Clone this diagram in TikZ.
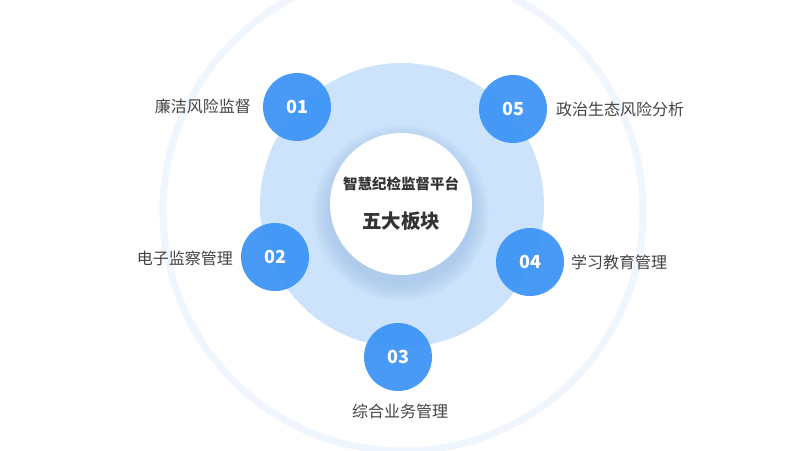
\documentclass[tikz,border=0pt]{standalone}
\usepackage{fontspec}
\setmainfont{Noto Sans CJK SC}
\definecolor{ringc}{HTML}{F0F6FE}
\definecolor{diskc}{HTML}{CCE3FB}
\definecolor{bluec}{HTML}{3690F6}
\definecolor{txtc}{HTML}{444444}
\definecolor{titc}{HTML}{333333}
\definecolor{shadc}{HTML}{8FB4E0}
\tikzset{
  numball/.style={circle, fill=bluec, fill opacity=0.9, text opacity=1, minimum size=68pt, inner sep=0pt, text=white, font=\bfseries\fontsize{18}{18}\selectfont},
  lbl/.style={text=txtc, font=\fontsize{16}{16}\selectfont, inner sep=0pt},
  shadowring/.style={fill=shadc, fill opacity=0.06},
}
\begin{document}
\begin{tikzpicture}[x=1pt,y=-1pt]
\useasboundingbox (0,0) rectangle (800,450);
\fill[white] (0,0) rectangle (800,450);
\begin{scope}
\clip (0,0) rectangle (800,450);
\draw[ringc, line width=7pt] (403,211) circle[radius=240];
\fill[diskc] (402,205) circle[radius=142];
\foreach \r in {72,74,...,88} {
  \fill[shadowring] (401,213) circle[radius=\r];
}
\node[circle, fill=white, minimum size=142pt, inner sep=0pt] (hub) at (401,204) {};
\end{scope}
\node[text=titc, font=\bfseries\fontsize{14.5}{14.5}\selectfont, inner sep=0pt] (title) at (401,184) {智慧纪检监督平台};
\node[text=titc, font=\bfseries\fontsize{19.5}{19.5}\selectfont, inner sep=0pt] (sub) at (401,221) {五大板块};
\node[numball] (n1) at (297,107) {01};
\node[numball] (n5) at (513,109) {05};
\node[numball] (n2) at (275,257) {02};
\node[numball] (n4) at (530,262) {04};
\node[numball] (n3) at (398,357) {03};
\node[lbl, anchor=east] (l1) at (251,106) {廉洁风险监督};
\node[lbl, anchor=west] (l5) at (556,109) {政治生态风险分析};
\node[lbl, anchor=east] (l2) at (233,258) {电子监察管理};
\node[lbl, anchor=west] (l4) at (571,262) {学习教育管理};
\node[lbl] (l3) at (400,411) {综合业务管理};
\end{tikzpicture}
\end{document}
